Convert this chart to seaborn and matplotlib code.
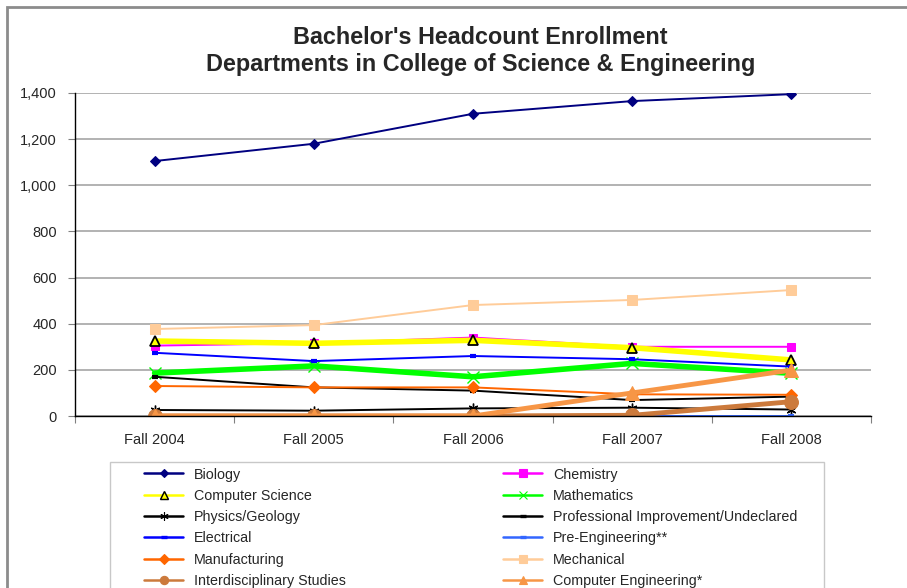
import numpy as np
import pandas as pd
import matplotlib
matplotlib.use("Agg")
import matplotlib.pyplot as plt
from matplotlib.patches import Rectangle
from matplotlib.lines import Line2D
from matplotlib.ticker import FuncFormatter
import seaborn as sns

# Data
terms = ["Fall 2004", "Fall 2005", "Fall 2006", "Fall 2007", "Fall 2008"]

biology = [1105, 1180, 1310, 1365, 1395]
chemistry = [305, 316, 340, 300, 300]
computer_science = [325, 315, 328, 296, 243]
mathematics = [186, 217, 170, 228, 185]
physics_geology = [26, 23, 33, 36, 28]
prof_improvement = [170, 124, 110, 69, 84]
electrical = [274, 238, 260, 246, 214]
pre_engineering = [np.nan, np.nan, np.nan, 1, 1]
manufacturing = [130, 124, 124, 94, 92]
mechanical = [377, 394, 481, 503, 546]
interdisciplinary = [0, 0, 0, 3, 62]
computer_engineering = [0, 0, 0, 100, 199]

series = [
    ("Biology", biology, dict(color="#000080", marker="D", markersize=5, lw=1.4)),
    ("Chemistry", chemistry, dict(color="#FF00FF", marker="s", markersize=6, lw=1.4)),
    ("Computer Science", computer_science, dict(color="#FFFF00", marker="^", markersize=7,
                                                markerfacecolor="#FFFF00", markeredgecolor="black",
                                                markeredgewidth=1.3, lw=4)),
    ("Mathematics", mathematics, dict(color="#00FF00", marker="x", markersize=8, lw=4,
                                      markeredgewidth=1)),
    ("Physics/Geology", physics_geology, dict(color="black", marker=(6, 2, 0), markersize=7,
                                              markeredgewidth=1, lw=1.4)),
    ("Professional Improvement/Undeclared", prof_improvement, dict(color="black", marker="_",
                                                                   markersize=5, markeredgewidth=3, lw=1.4)),
    ("Electrical", electrical, dict(color="#0000FF", marker="_", markersize=5,
                                    markeredgewidth=3, lw=1.4)),
    ("Pre-Engineering**", pre_engineering, dict(color="#3366FF", marker="_", markersize=5,
                                                markeredgewidth=3, lw=1.4)),
    ("Manufacturing", manufacturing, dict(color="#FF6600", marker="D", markersize=6, lw=1.4)),
    ("Mechanical", mechanical, dict(color="#FFCC99", marker="s", markersize=7, lw=1.4)),
    ("Interdisciplinary Studies", interdisciplinary, dict(color="#CC7A3C", marker="o",
                                                          markersize=10, lw=3.5)),
    ("Computer Engineering*", computer_engineering, dict(color="#F79646", marker="^",
                                                         markersize=10, lw=3.5)),
]

sns.set_style("white")
plt.rcParams["font.family"] = ["Liberation Sans", "DejaVu Sans"]

fig = plt.figure(figsize=(9.07, 5.88), dpi=100)
ax = fig.add_axes([75 / 907, 1 - 416 / 588, (871 - 75) / 907, (416 - 93) / 588])

x = np.arange(len(terms))
leg_handles = []
for name, vals, style in series:
    style = dict(style)
    mec = style.pop("markeredgecolor", style["color"])
    sns.lineplot(x=x, y=vals, ax=ax, markeredgecolor=mec, legend=False, **style)
    # thin legend sample like the reference
    leg_handles.append(Line2D([], [], color=style["color"], lw=1.8, marker=style["marker"],
                              markersize=min(style["markersize"], 7) * 0.85,
                              markerfacecolor=style.get("markerfacecolor", style["color"]),
                              markeredgecolor=mec,
                              markeredgewidth=style.get("markeredgewidth", 1) * 0.8))

ax.set_xlim(-0.5, len(terms) - 0.5)
ax.set_ylim(0, 1400)
ax.set_yticks(np.arange(0, 1401, 200))
ax.yaxis.set_major_formatter(FuncFormatter(lambda v, p: f"{int(v):,}"))
ax.set_xticks(x)
ax.set_xticklabels(terms)
ax.set_xticks(np.arange(-0.5, len(terms), 1), minor=True)
ax.tick_params(axis="x", which="major", length=0, pad=12, labelsize=10.5)
ax.tick_params(axis="x", which="minor", length=5, width=0.8, color="#808080", direction="out")
ax.tick_params(axis="y", length=5, width=0.8, color="#808080", direction="out", pad=8, labelsize=10.5)
ax.xaxis.set_ticks_position("bottom")
ax.yaxis.set_ticks_position("left")
ax.set_xlabel("")
ax.set_ylabel("")

ax.grid(axis="y", color="#A6A6A6", lw=1.2)
ax.grid(axis="x", visible=False)
for s in ["top", "right"]:
    ax.spines[s].set_visible(False)
for s in ["left", "bottom"]:
    ax.spines[s].set_color("black")
    ax.spines[s].set_linewidth(1)

fig.text(0.53, 1 - 38 / 588, "Bachelor's Headcount Enrollment", ha="center", va="center",
         fontsize=16.8, fontweight="bold")
fig.text(0.53, 1 - 65 / 588, "Departments in College of Science & Engineering", ha="center",
         va="center", fontsize=16.8, fontweight="bold")

# legend: reorder so rows read as in the reference
labels = [s[0] for s in series]
order = [0, 2, 4, 6, 8, 10, 1, 3, 5, 7, 9, 11]
fig.legend([leg_handles[i] for i in order], [labels[i] for i in order], ncol=2, frameon=False,
           loc="upper left", bbox_to_anchor=(144 / 907, 1 - 467.5 / 588), fontsize=10.3,
           handlelength=2.73, handletextpad=0.77, columnspacing=11.0, labelspacing=0.51,
           borderpad=0, borderaxespad=0)

# frames
fig.patches.append(Rectangle((110 / 907, -0.1), (824 - 110) / 907, 0.1 + (588 - 462) / 588,
                             transform=fig.transFigure, fill=False, edgecolor="#C8C8C8", lw=1))
fig.patches.append(Rectangle((7 / 907, -0.1), 1.1, 0.1 + (588 - 7) / 588,
                             transform=fig.transFigure, fill=False, edgecolor="#8C8C8C", lw=2))

fig.savefig("out.png", dpi=100)
